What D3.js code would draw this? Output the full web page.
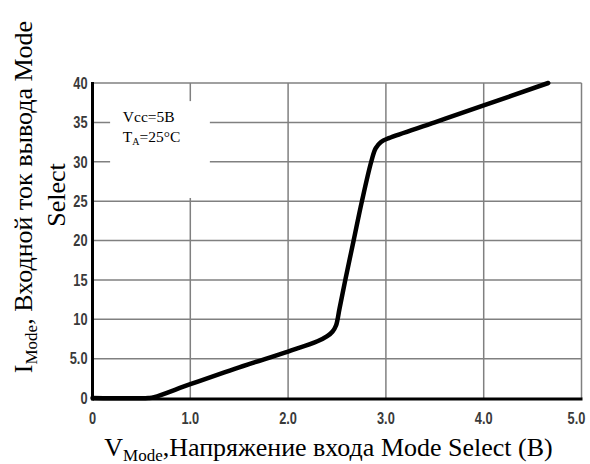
<!DOCTYPE html>
<html><head><meta charset="utf-8">
<script src="https://cdn.jsdelivr.net/npm/d3@7/dist/d3.min.js"></script>
<style>
body{margin:0;background:#fff;}
svg{display:block;}
.tick-label{font-family:"Liberation Sans",Arial,sans-serif;font-size:16px;font-weight:bold;fill:#3a3a3a;}
.title{font-family:"Liberation Serif","Times New Roman",serif;fill:#000;}
</style></head>
<body>
<svg id="c" width="590" height="464"></svg>
<script>
// ---- data ----
const xTickValues = [0, 1, 2, 3, 4, 5];
const xTickLabels = ["0", "1.0", "2.0", "3.0", "4.0", "5.0"];
const yTickValues = [0, 5, 10, 15, 20, 25, 30, 35, 40];
const yTickLabels = ["0", "5.0", "10", "15", "20", "25", "30", "35", "40"];
const curveV = [0, 0.57, 0.63, 1.0, 1.5, 2.0, 2.3, 2.4, 2.455, 2.49, 2.525, 2.585, 2.67, 2.755, 2.85, 2.895, 2.95, 3.03, 3.5, 4.0, 4.66];
const curveI = [0, 0, 0.1, 1.75, 3.9, 5.9, 7.2, 7.85, 8.45, 9.2, 11.3, 15, 20, 25, 30, 31.7, 32.5, 33.0, 35.0, 37.15, 40];
const noteLines = ["Vcc=5B", "TA=25°C"];

// ---- layout ----
const svg = d3.select("#c");
const x = d3.scaleLinear().domain([0, 5]).range([92.5, 581.5]);
const y = d3.scaleLinear().domain([0, 40]).range([398, 83]);

const grid = svg.append("g").attr("stroke", "#808080").attr("stroke-width", 1.5);
grid.selectAll("line.v").data(xTickValues.slice(1)).enter().append("line")
  .attr("x1", d => x(d)).attr("x2", d => x(d)).attr("y1", y(40)).attr("y2", y(0));
grid.selectAll("line.h").data(yTickValues.slice(1)).enter().append("line")
  .attr("x1", x(0)).attr("x2", x(5)).attr("y1", d => y(d)).attr("y2", d => y(d));

// annotation box (covers grid)
svg.append("rect").attr("x", x(0.18)).attr("y", y(37.7))
  .attr("width", x(1.2) - x(0.18)).attr("height", y(25.4) - y(37.7)).attr("fill", "#fff");

// axes lines
svg.append("line").attr("x1", x(0)).attr("x2", x(0)).attr("y1", y(40) - 1).attr("y2", y(0) + 2.5)
  .attr("stroke", "#000").attr("stroke-width", 3);
svg.append("line").attr("x1", x(0)).attr("x2", x(5) + 1).attr("y1", y(0) + 1).attr("y2", y(0) + 1)
  .attr("stroke", "#000").attr("stroke-width", 3);

// curve
const pts = curveV.map((v, i) => [v, curveI[i]]);
svg.append("path").datum(pts)
  .attr("d", d3.line().x(d => x(d[0])).y(d => y(d[1])).curve(d3.curveCatmullRom.alpha(0.5)))
  .attr("fill", "none").attr("stroke", "#000").attr("stroke-width", 4.5)
  .attr("stroke-linejoin", "round").attr("stroke-linecap", "round");

// tick labels (condensed)
svg.selectAll("text.yl").data(yTickValues).enter().append("text")
  .attr("class", "tick-label")
  .attr("transform", d => `translate(${x(0) - 5},${y(d)}) scale(0.8,1)`).attr("dy", "0.36em")
  .attr("text-anchor", "end").text((d, i) => yTickLabels[i]);
svg.selectAll("text.xl").data(xTickValues).enter().append("text")
  .attr("class", "tick-label")
  .attr("transform", (d, i) => `translate(${x(d) - (i === xTickValues.length - 1 ? 5 : 0)},423.5) scale(0.8,1)`)
  .attr("text-anchor", "middle").text((d, i) => xTickLabels[i]);

// note
const note = svg.append("text").attr("class", "title").attr("font-size", 15.5);
note.append("tspan").attr("x", x(0.31)).attr("y", 122).text(noteLines[0]);
const l2 = note.append("tspan").attr("x", x(0.31)).attr("y", 142);
l2.text("T");
note.append("tspan").attr("font-size", 10).attr("dy", 3).text("A");
note.append("tspan").attr("dy", -3).text("=25°C");

// x title
const xt = svg.append("text").attr("class", "title").attr("font-size", 26)
  .attr("x", 328.5).attr("y", 456).attr("text-anchor", "middle");
xt.append("tspan").text("V");
xt.append("tspan").attr("font-size", 17).attr("dy", 5).text("Mode");
xt.append("tspan").attr("dy", -5).text(",Напряжение входа Mode Select (В)");

// y title
const yt = svg.append("text").attr("class", "title").attr("font-size", 26)
  .attr("transform", "translate(32,197) rotate(-90)").attr("text-anchor", "middle");
yt.append("tspan").text("I");
yt.append("tspan").attr("font-size", 17).attr("dy", 5).text("Mode");
yt.append("tspan").attr("dy", -5).text(", Входной ток вывода Mode");
svg.append("text").attr("class", "title").attr("font-size", 26)
  .attr("transform", "translate(65,195) rotate(-90)").attr("text-anchor", "middle").text("Select");
</script>
</body></html>
